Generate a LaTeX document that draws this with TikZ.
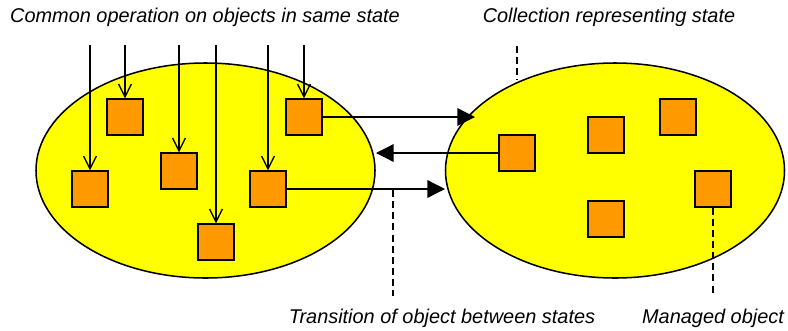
\documentclass[tikz,border=0pt]{standalone}
\usepackage{fontspec}
\setmainfont{Liberation Sans}
\usetikzlibrary{arrows.meta,shapes.geometric}
\definecolor{stateyellow}{RGB}{255,255,0}
\definecolor{objorange}{RGB}{255,153,0}

\begin{document}
\begin{tikzpicture}[x=0.03cm, y=-0.03cm, every node/.style={font=\fontsize{17}{20}\selectfont\itshape},
  state/.style={draw, ellipse, line width=1.3pt, fill=stateyellow, minimum width=10.17cm, minimum height=6.45cm, inner sep=0pt},
  obj/.style={draw, line width=1.1pt, fill=objorange, minimum size=1.08cm, inner sep=0pt},
  op/.style={-{Straight Barb[length=11pt, width=11pt]}, line width=1.1pt},
  move/.style={-{Triangle[length=15pt, width=15pt]}, line width=1.1pt},
  pointer/.style={dash pattern=on 6pt off 3.5pt, line width=1.1pt}]
\useasboundingbox (0,0) rectangle (788,330);
% the two states
\node[state] (left) at (205.5,170.5) {};
\node[state] (right) at (615,170.5) {};
% objects in the left state
\node[obj] (a) at (125,117) {};
\node[obj] (b) at (304,117) {};
\node[obj] (c) at (179,171) {};
\node[obj] (d) at (90,189) {};
\node[obj] (e) at (268,189) {};
\node[obj] (f) at (216,242) {};
% objects in the right state
\node[obj] (r1) at (517,153) {};
\node[obj] (r2) at (606,135) {};
\node[obj] (r3) at (678,117) {};
\node[obj] (r4) at (713,189) {};
\node[obj] (r5) at (606,219) {};
% labels
\node (oplabel) at (205,17) {Common operation on objects in same state};
\node (collabel) at (609,17) {Collection representing state};
\node (translabel) at (442,318) {Transition of object between states};
\node (objlabel) at (713,318) {Managed object};
\coordinate (optop) at (0,45);
\coordinate (coltop) at (517,46);
\coordinate (colend) at (517,80);
\coordinate (transtop) at (393,190);
\coordinate (transend) at (393,296);
\coordinate (objend) at (713,295);
\coordinate (btip) at (475,117);
\coordinate (r1tip) at (376,153);
\coordinate (etip) at (445,189);
% common operation
\draw[op] (d.north |- optop) -- (d.north); \draw[op] (a.north |- optop) -- (a.north);
\draw[op] (c.north |- optop) -- (c.north); \draw[op] (f.north |- optop) -- (f.north);
\draw[op] (e.north |- optop) -- (e.north); \draw[op] (b.north |- optop) -- (b.north);
% transitions
\draw[move] (b.east) -- (btip); \draw[move] (r1.west) -- (r1tip); \draw[move] (e.east) -- (etip);
% callouts
\draw[pointer] (coltop) -- (colend); \draw[pointer] (transtop) -- (transend); \draw[pointer] (r4.south) -- (objend);
\end{tikzpicture}
\end{document}
